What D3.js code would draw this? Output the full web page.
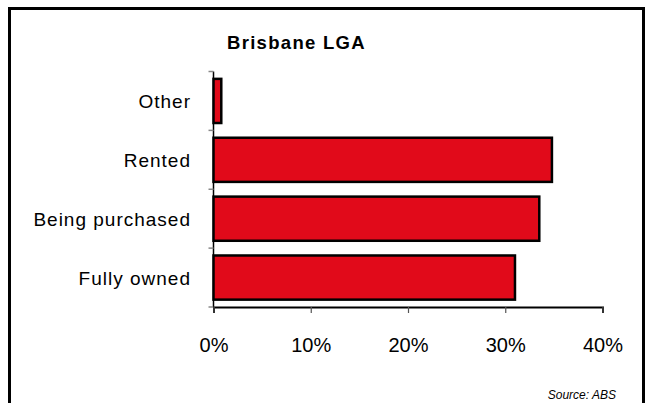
<!DOCTYPE html>
<html>
<head>
<meta charset="utf-8">
<script src="https://cdn.jsdelivr.net/npm/d3@7"></script>
<style>
  body { margin: 0; background: #fff; }
  text { font-family: "Liberation Sans", Arial, sans-serif; }
</style>
</head>
<body>
<svg id="chart" width="648" height="403"></svg>
<script>
// chart data
const categories = ["Other", "Rented", "Being purchased", "Fully owned"];
const shares = [0.8, 34.8, 33.5, 31.0];
const tickValues = [0, 10, 20, 30, 40];

const svg = d3.select("#chart");

// outer frame
svg.append("rect")
    .attr("x", 9.5).attr("y", 8.5)
    .attr("width", 634).attr("height", 410)
    .attr("fill", "#fff").attr("stroke", "#000").attr("stroke-width", 3);

const x = d3.scaleLinear().domain([0, 40]).range([213.5, 602.5]);
const y = d3.scaleBand().domain(categories).range([71.5, 307]).paddingInner(0.25).paddingOuter(0.125);

// y axis line and ticks
const yEdges = d3.range(categories.length + 1).map(i => 71.5 + i * y.step());
svg.append("line")
    .attr("x1", x(0)).attr("x2", x(0))
    .attr("y1", 71.5).attr("y2", 307)
    .attr("stroke", "#000").attr("stroke-width", 1.5);
svg.selectAll(".ytick").data(yEdges).enter().append("line")
    .attr("x1", x(0) - 5).attr("x2", x(0))
    .attr("y1", d => d).attr("y2", d => d)
    .attr("stroke", "#888").attr("stroke-width", 1.5);

// bars
svg.selectAll(".bar").data(categories).enter().append("rect")
    .attr("class", "bar")
    .attr("x", x(0))
    .attr("y", d => y(d))
    .attr("width", (d, i) => x(shares[i]) - x(0))
    .attr("height", y.bandwidth())
    .attr("fill", "#e10a1a")
    .attr("stroke", "#000").attr("stroke-width", 2.5);

// x axis
const xAxis = svg.append("g")
    .attr("transform", "translate(0,307)")
    .call(d3.axisBottom(x).tickValues(tickValues).tickFormat(d => d + "%").tickSize(6).tickPadding(25));
xAxis.select(".domain").attr("stroke", "#000").attr("stroke-width", 2);
xAxis.selectAll(".tick line").attr("stroke", "#555").attr("stroke-width", 1.2);
xAxis.selectAll(".tick text")
    .attr("font-family", "Liberation Sans, Arial, sans-serif")
    .attr("font-size", 20).attr("fill", "#000");

// category labels
svg.selectAll(".cat").data(categories).enter().append("text")
    .attr("x", 191)
    .attr("y", d => y(d) + y.bandwidth() / 2)
    .attr("dy", "0.38em")
    .attr("text-anchor", "end")
    .attr("font-size", 19)
    .attr("letter-spacing", 1)
    .text(d => d);

// title
svg.append("text")
    .attr("x", 227).attr("y", 49)
    .attr("font-size", 18.5).attr("font-weight", "bold")
    .attr("letter-spacing", 1.3)
    .text("Brisbane LGA");

// source
svg.append("text")
    .attr("x", 616).attr("y", 399)
    .attr("text-anchor", "end")
    .attr("font-size", 12).attr("font-style", "italic")
    .text("Source:  ABS");
</script>
</body>
</html>
